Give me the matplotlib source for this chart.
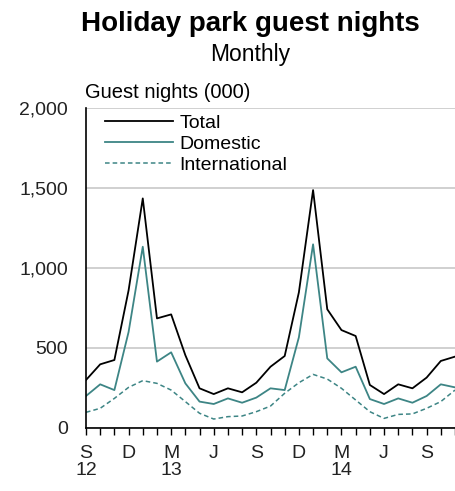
import matplotlib
matplotlib.use("Agg")
import matplotlib.pyplot as plt

plt.rcParams['font.family'] = ['Liberation Sans', 'DejaVu Sans']

# Monthly guest nights (000), Sep 2012 - Nov 2014
months = list(range(27))
total = [300, 398, 425, 860, 1435, 685, 710, 455, 248, 212, 248, 223, 283, 383, 450,
         848, 1487, 742, 612, 575, 269, 212, 273, 248, 315, 419, 446]
domestic = [200, 273, 237, 600, 1133, 415, 473, 279, 165, 150, 185, 158, 190, 248, 237,
            567, 1148, 435, 348, 383, 181, 150, 185, 158, 200, 273, 254]
international = [98, 123, 185, 254, 296, 279, 237, 165, 92, 56, 71, 75, 102, 137, 217,
                 283, 335, 306, 248, 175, 102, 60, 85, 88, 123, 165, 237]

tick_pos = [0, 3, 6, 9, 12, 15, 18, 21, 24]
tick_labels = ['S\n12', 'D', 'M\n13', 'J', 'S', 'D', 'M\n14', 'J', 'S']
y_ticks = [0, 500, 1000, 1500, 2000]
y_labels = ['0', '500', '1,000', '1,500', '2,000']

teal = '#3d8585'

fig = plt.figure(figsize=(4.55, 4.91), dpi=100)
ax = fig.add_axes([86 / 455, 63 / 491, 1 - 86 / 455, 320 / 491])

ax.plot(months, total, color='black', lw=1.3, label='Total')
ax.plot(months, domestic, color=teal, lw=1.3, label='Domestic')
ax.plot(months, international, color=teal, lw=1.1, linestyle=(0, (3, 2)), label='International')

ax.set_xlim(0, 26)
ax.set_ylim(0, 2000)
ax.set_yticks(y_ticks)
ax.set_yticklabels(y_labels, fontsize=14, color='#222222')
ax.tick_params(axis='y', length=0, pad=13)
ax.set_xticks(months, minor=True)
ax.set_xticks(tick_pos)
ax.set_xticklabels(tick_labels, fontsize=14, linespacing=1.05, color='#222222')
ax.tick_params(axis='x', which='both', direction='out', length=5, width=1, pad=7)

ax.grid(axis='y', color='#c8c8c8', lw=1.2)
ax.set_axisbelow(True)
for s in ['top', 'right']:
    ax.spines[s].set_visible(False)
ax.spines['left'].set_linewidth(1.2)
ax.spines['bottom'].set_linewidth(1.2)

ax.legend(loc='upper left', frameon=False, fontsize=14, handlelength=3.5,
          handletextpad=0.35, labelspacing=0.17, borderaxespad=0.0,
          bbox_to_anchor=(0.03, 1.005))

fig.text(85 / 455, 1 - 93 / 491, 'Guest nights (000)', fontsize=14.5, va='center', ha='left')
fig.text(0.55, 1 - 24 / 491, 'Holiday park guest nights', fontsize=20, weight='bold',
         ha='center', va='center')
fig.text(0.55, 1 - 54 / 491, 'Monthly', fontsize=16.5, ha='center', va='center')

fig.savefig('out.png', dpi=100)
